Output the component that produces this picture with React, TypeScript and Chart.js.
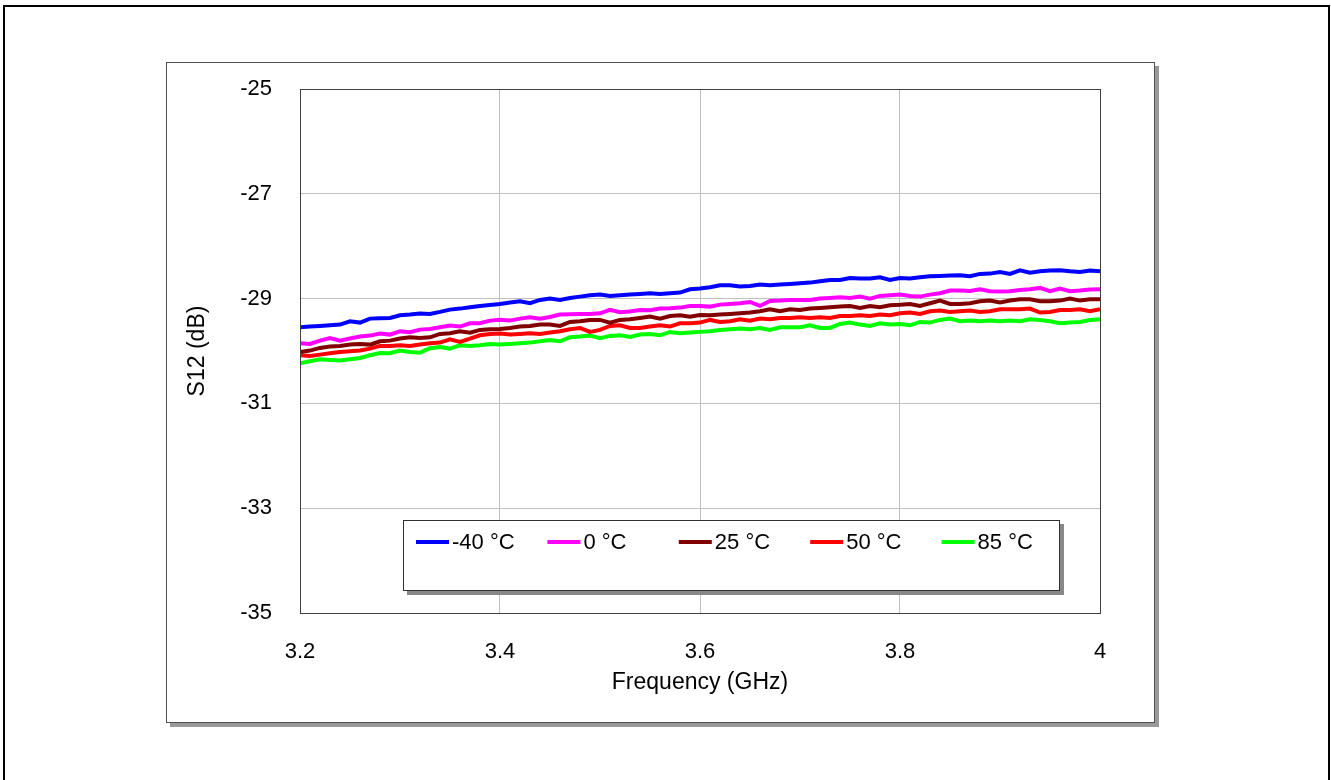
import React, { useEffect, useRef } from "react";
import { Chart, registerables } from "chart.js";

Chart.register(...registerables);

const FREQ_START = 3.2;
const FREQ_STEP = 0.01;
const X_TICKS = [3.2, 3.4, 3.6, 3.8, 4];
const Y_TICKS = [-35, -33, -31, -29, -27, -25];

const SERIES_LABELS = ["-40 °C", "0 °C", "25 °C", "50 °C", "85 °C"];
const SERIES_COLORS = ["#0000FF", "#FF00FF", "#800000", "#FF0000", "#00FF00"];

const S12_M40 = [
  -29.547, -29.534, -29.522, -29.509, -29.496, -29.433, -29.458, -29.382, -29.375, -29.369, -29.318,
  -29.305, -29.286, -29.293, -29.254, -29.210, -29.191, -29.165, -29.140, -29.121, -29.102,
  -29.076, -29.051, -29.089, -29.025, -29.000, -29.025, -28.987, -28.962, -28.936, -28.924,
  -28.949, -28.936, -28.924, -28.911, -28.898, -28.911, -28.898, -28.885, -28.822, -28.809,
  -28.784, -28.746, -28.746, -28.771, -28.758, -28.733, -28.746, -28.733, -28.720, -28.707,
  -28.695, -28.669, -28.644, -28.644, -28.606, -28.618, -28.618, -28.593, -28.644, -28.606,
  -28.618, -28.593, -28.574, -28.567, -28.561, -28.555, -28.574, -28.529, -28.523, -28.491,
  -28.529, -28.459, -28.504, -28.478, -28.466, -28.459, -28.478, -28.491, -28.466, -28.478,
];

const S12_0 = [
  -29.852, -29.865, -29.802, -29.751, -29.802, -29.763, -29.725, -29.706, -29.668, -29.687, -29.623,
  -29.643, -29.592, -29.579, -29.547, -29.515, -29.534, -29.471, -29.471, -29.420, -29.404,
  -29.420, -29.382, -29.356, -29.382, -29.350, -29.305, -29.299, -29.293, -29.293, -29.280,
  -29.216, -29.261, -29.248, -29.216, -29.223, -29.191, -29.184, -29.172, -29.140, -29.140,
  -29.153, -29.115, -29.102, -29.089, -29.064, -29.140, -29.045, -29.038, -29.025, -29.025,
  -29.025, -29.000, -28.987, -28.975, -28.987, -28.962, -29.000, -28.949, -28.936, -28.924,
  -28.949, -28.962, -28.924, -28.898, -28.847, -28.847, -28.854, -28.822, -28.860, -28.866,
  -28.860, -28.835, -28.822, -28.796, -28.860, -28.809, -28.860, -28.847, -28.828, -28.822,
];

const S12_25 = [
  -30.018, -29.992, -29.941, -29.916, -29.903, -29.878, -29.865, -29.878, -29.814, -29.802, -29.763,
  -29.738, -29.751, -29.738, -29.674, -29.662, -29.623, -29.649, -29.598, -29.585, -29.579,
  -29.560, -29.534, -29.522, -29.496, -29.496, -29.522, -29.445, -29.433, -29.407, -29.407,
  -29.458, -29.407, -29.394, -29.369, -29.344, -29.382, -29.331, -29.318, -29.344, -29.312,
  -29.318, -29.305, -29.293, -29.280, -29.267, -29.242, -29.204, -29.242, -29.204, -29.216,
  -29.191, -29.178, -29.165, -29.153, -29.140, -29.178, -29.140, -29.165, -29.127, -29.117,
  -29.102, -29.140, -29.089, -29.038, -29.102, -29.102, -29.089, -29.051, -29.038, -29.076,
  -29.038, -29.013, -29.013, -29.051, -29.051, -29.038, -29.000, -29.038, -29.013, -29.013,
];

const S12_50 = [
  -30.081, -30.094, -30.069, -30.043, -30.018, -30.005, -29.992, -29.954, -29.903, -29.903, -29.891,
  -29.903, -29.878, -29.852, -29.840, -29.776, -29.827, -29.763, -29.700, -29.674, -29.668,
  -29.687, -29.674, -29.662, -29.674, -29.649, -29.623, -29.585, -29.560, -29.636, -29.598,
  -29.522, -29.509, -29.560, -29.560, -29.534, -29.509, -29.534, -29.471, -29.471, -29.458,
  -29.407, -29.445, -29.433, -29.394, -29.420, -29.382, -29.394, -29.369, -29.369, -29.356,
  -29.369, -29.356, -29.369, -29.331, -29.331, -29.318, -29.331, -29.305, -29.318, -29.280,
  -29.267, -29.293, -29.242, -29.229, -29.254, -29.242, -29.229, -29.254, -29.242, -29.204,
  -29.204, -29.204, -29.191, -29.267, -29.254, -29.216, -29.216, -29.204, -29.242, -29.204,
];

const S12_85 = [
  -30.234, -30.196, -30.158, -30.170, -30.183, -30.158, -30.132, -30.081, -30.037, -30.043, -29.992,
  -30.018, -30.031, -29.948, -29.922, -29.954, -29.891, -29.903, -29.891, -29.865, -29.878,
  -29.865, -29.852, -29.840, -29.814, -29.789, -29.814, -29.738, -29.725, -29.706, -29.757,
  -29.712, -29.700, -29.732, -29.687, -29.674, -29.700, -29.636, -29.662, -29.649, -29.635,
  -29.623, -29.598, -29.585, -29.573, -29.585, -29.560, -29.598, -29.547, -29.547, -29.547,
  -29.509, -29.560, -29.560, -29.483, -29.458, -29.496, -29.522, -29.471, -29.496, -29.483,
  -29.509, -29.445, -29.458, -29.407, -29.382, -29.433, -29.420, -29.433, -29.420, -29.433,
  -29.420, -29.433, -29.394, -29.407, -29.433, -29.471, -29.458, -29.445, -29.407, -29.394,
];

const SERIES_VALUES = [S12_M40, S12_0, S12_25, S12_50, S12_85];

const FONT = "'Liberation Sans', Arial, Helvetica, sans-serif";

const framePlugin = {
  id: "framePlugin",
  beforeDraw(chart: any) {
    const ctx = chart.ctx;
    ctx.save();
    ctx.fillStyle = "#ffffff";
    ctx.fillRect(0, 0, chart.width, chart.height);
    // outer black border (bottom edge lies below the visible page)
    ctx.strokeStyle = "#000000";
    ctx.lineWidth = 2;
    ctx.strokeRect(4, 6, 1325, 790);
    // chart frame with shadow
    ctx.fillStyle = "#999999";
    ctx.fillRect(170, 66, 989, 661);
    ctx.fillStyle = "#ffffff";
    ctx.fillRect(166, 62, 989, 661);
    ctx.strokeStyle = "#505050";
    ctx.lineWidth = 1;
    ctx.strokeRect(166.5, 62.5, 988, 660);
    ctx.restore();
  },
  afterDraw(chart: any) {
    const ctx = chart.ctx;
    const ca = chart.chartArea;
    ctx.save();
    // plot area border
    ctx.strokeStyle = "#404040";
    ctx.lineWidth = 1;
    ctx.strokeRect(Math.round(ca.left) + 0.5, Math.round(ca.top) + 0.5, Math.round(ca.right - ca.left), Math.round(ca.bottom - ca.top));

    // legend box
    const bx = ca.left + 103;
    const by = ca.top + 431;
    const bw = 657;
    const bh = 71;
    ctx.fillStyle = "#888888";
    ctx.fillRect(bx + 4, by + 4, bw, bh);
    ctx.fillStyle = "#ffffff";
    ctx.fillRect(bx, by, bw, bh);
    ctx.strokeStyle = "#303030";
    ctx.strokeRect(bx + 0.5, by + 0.5, bw - 1, bh - 1);

    const datasets = chart.data.datasets;
    ctx.font = "22px " + FONT;
    ctx.textBaseline = "middle";
    ctx.textAlign = "left";
    const rowY = by + 22;
    for (let i = 0; i < datasets.length; i++) {
      const x0 = bx + 13 + i * 131.4;
      ctx.strokeStyle = datasets[i].borderColor;
      ctx.lineWidth = 4;
      ctx.beginPath();
      ctx.moveTo(x0, rowY);
      ctx.lineTo(x0 + 33, rowY);
      ctx.stroke();
      ctx.fillStyle = "#000000";
      ctx.fillText(datasets[i].label, x0 + 36, rowY + 1);
    }
    ctx.restore();
  },
};

export default function App() {
  const canvasRef = useRef<HTMLCanvasElement | null>(null);

  useEffect(() => {
    const canvas = canvasRef.current;
    if (!canvas) return;

    const datasets = SERIES_VALUES.map((vals, s) => ({
      label: SERIES_LABELS[s],
      data: vals.map((v, i) => ({ x: FREQ_START + i * FREQ_STEP, y: v })),
      borderColor: SERIES_COLORS[s],
      backgroundColor: SERIES_COLORS[s],
      borderWidth: 4,
      pointRadius: 0,
      tension: 0,
      fill: false,
    }));

    const chart = new Chart(canvas, {
      type: "line",
      data: { datasets },
      plugins: [framePlugin],
      options: {
        animation: false,
        responsive: false,
        devicePixelRatio: 1,
        layout: { padding: { left: 166, top: 89, right: 231, bottom: 57 } },
        plugins: {
          legend: { display: false },
          tooltip: { enabled: false },
        },
        scales: {
          x: {
            type: "linear",
            min: X_TICKS[0],
            max: X_TICKS[X_TICKS.length - 1],
            afterBuildTicks: (scale: any) => {
              scale.ticks = X_TICKS.map((v) => ({ value: v }));
            },
            afterFit: (scale: any) => {
              scale.height = 110;
            },
            ticks: {
              padding: 26,
              color: "#000000",
              font: { family: FONT, size: 22, lineHeight: 1.2 },
              maxRotation: 0,
              callback: (v: any) => String(Number(Number(v).toFixed(1))),
            },
            grid: { color: "#c0c0c0", lineWidth: 1, drawTicks: false },
            border: { display: false },
            title: {
              display: true,
              text: "Frequency (GHz)",
              color: "#000000",
              font: { family: FONT, size: 23, lineHeight: 1.2 },
              padding: { top: 0, bottom: 27 },
            },
          },
          y: {
            type: "linear",
            min: Y_TICKS[0],
            max: Y_TICKS[Y_TICKS.length - 1],
            afterBuildTicks: (scale: any) => {
              scale.ticks = Y_TICKS.map((v) => ({ value: v }));
            },
            afterFit: (scale: any) => {
              scale.width = 134;
            },
            ticks: {
              padding: 28,
              color: "#000000",
              font: { family: FONT, size: 22, lineHeight: 1.2 },
              callback: (v: any) => String(v),
            },
            grid: { color: "#c0c0c0", lineWidth: 1, drawTicks: false },
            border: { display: false },
            title: {
              display: true,
              text: "S12 (dB)",
              color: "#000000",
              font: { family: FONT, size: 23, lineHeight: 1.2 },
              padding: { top: 18, bottom: 0 },
            },
          },
        },
      },
    } as any);

    return () => chart.destroy();
  }, []);

  return (
    <div style={{ position: "fixed", left: 0, top: 0, width: 1331, height: 780, background: "#fff" }}>
      <canvas ref={canvasRef} width={1331} height={780} style={{ width: 1331, height: 780, display: "block" }} />
    </div>
  );
}
